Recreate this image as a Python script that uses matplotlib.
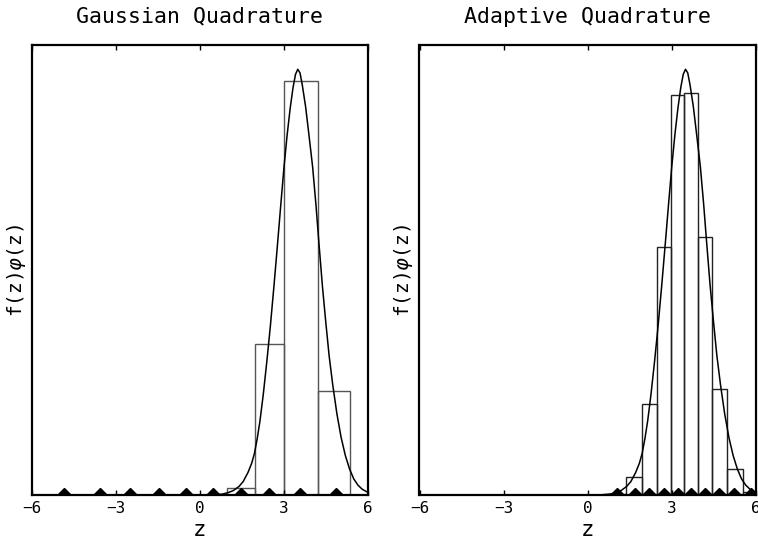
import matplotlib
matplotlib.use("Agg")
import matplotlib.pyplot as plt

plt.rcParams['font.family'] = ['DejaVu Sans Mono', 'DejaVu Sans']
plt.rcParams['mathtext.fontset'] = 'dejavusans'

# integrand f(z)phi(z) (same curve in both panels)
curve_z = [0.5, 0.8, 1.0, 1.2, 1.4, 1.55, 1.72, 1.85, 1.95, 2.05, 2.15, 2.27,
           2.40, 2.52, 2.65, 2.78, 2.90, 3.01, 3.12, 3.23, 3.33, 3.42, 3.50,
           3.58, 3.66, 3.78, 3.90, 4.03, 4.15, 4.25, 4.38, 4.50, 4.62, 4.75,
           4.90, 5.05, 5.20, 5.35, 5.50, 5.65, 5.80, 6.0]
curve_y = [0.0, 0.002, 0.005, 0.010, 0.019, 0.030, 0.050, 0.070, 0.092, 0.125,
           0.165, 0.225, 0.300, 0.375, 0.465, 0.560, 0.650, 0.730, 0.800,
           0.860, 0.905, 0.935, 0.946, 0.938, 0.912, 0.863, 0.800, 0.730,
           0.645, 0.565, 0.465, 0.385, 0.310, 0.245, 0.180, 0.128, 0.088,
           0.058, 0.036, 0.022, 0.013, 0.006]

# Gaussian quadrature: nodes and bars
gq_nodes = [-4.86, -3.58, -2.48, -1.47, -0.48, 0.48, 1.47, 2.48, 3.58, 4.86]
gq_edges = [0.98, 1.97, 3.02, 4.22, 5.35]
gq_heights = [0.016, 0.335, 0.920, 0.232]

# Adaptive quadrature: nodes and bars
aq_nodes = [1.06, 1.68, 2.21, 2.74, 3.23, 3.71, 4.21, 4.71, 5.24, 5.84]
aq_edges = [0.50, 1.36, 1.95, 2.48, 2.99, 3.46, 3.96, 4.45, 4.98, 5.57, 5.88]
aq_heights = [0.002, 0.039, 0.202, 0.550, 0.889, 0.893, 0.574, 0.235, 0.057, 0.0056]

titles = ["Gaussian Quadrature", "Adaptive Quadrature"]
xticks = [-6, -3, 0, 3, 6]

fig = plt.figure(figsize=(7.58, 5.42), dpi=100)
W, H = 758, 542
ax_rects = [(32, 45, 335.7, 450), (419.5, 45, 336, 450)]

panels = [(gq_nodes, gq_edges, gq_heights, '#555555'),
          (aq_nodes, aq_edges, aq_heights, '#222222')]

for i, (nodes, edges, heights, bcol) in enumerate(panels):
    x0, y0, w, h = ax_rects[i]
    ax = fig.add_axes([x0 / W, 1 - (y0 + h) / H, w / W, h / H])
    lefts = edges[:-1]
    widths = [edges[k + 1] - edges[k] for k in range(len(edges) - 1)]
    ax.bar(lefts, heights, width=widths, align='edge', facecolor='none',
           edgecolor=bcol, linewidth=1.0)
    ax.plot(curve_z, curve_y, color='black', linewidth=1.1)
    ax.plot(nodes, [0] * len(nodes), linestyle='none', marker='D',
            markersize=7, color='black', clip_on=True)
    ax.set_xlim(-6, 6)
    ax.set_ylim(0, 1)
    ax.set_xticks(xticks)
    ax.set_xticklabels([str(t).replace('-', '\u2212') for t in xticks], fontsize=11.5)
    ax.set_yticks([])
    ax.tick_params(axis='x', direction='in', length=3.5, width=1, top=True,
                   pad=4, colors='black')
    for sp in ax.spines.values():
        sp.set_linewidth(1.6)
        sp.set_color('black')
    ax.set_title(titles[i], fontsize=15.5, pad=16)
    ax.set_xlabel('z', fontsize=16, labelpad=3)
    ax.set_ylabel(r'f(z)$\varphi$(z)', fontsize=14, labelpad=3)

fig.savefig('out.png', dpi=100)
